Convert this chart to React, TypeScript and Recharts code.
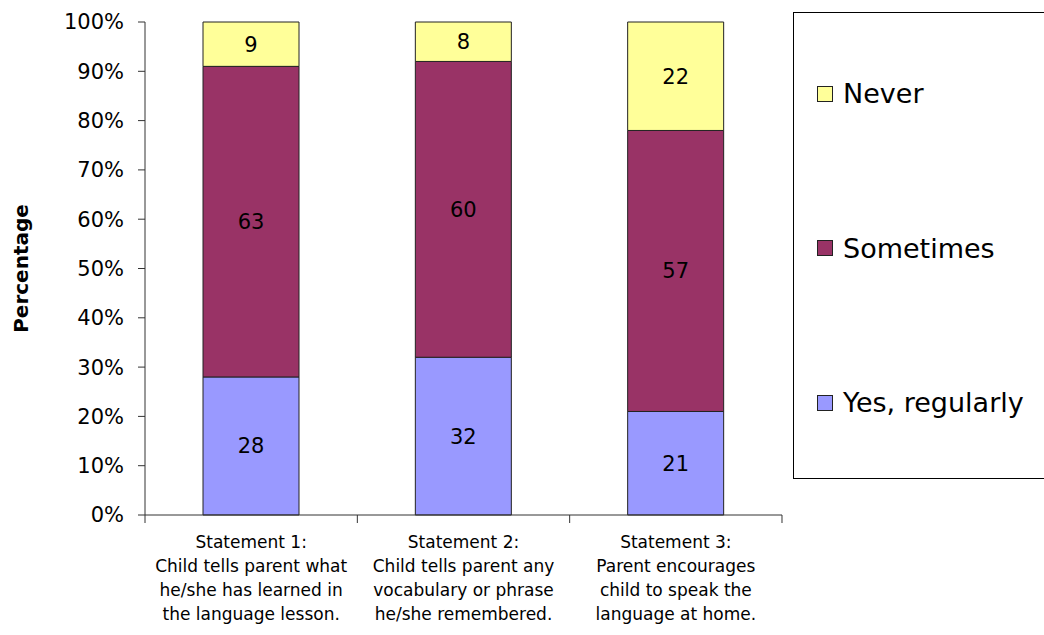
import React from 'react';
import { BarChart, Bar, XAxis, YAxis, LabelList } from 'recharts';

const categories = [
  ['Statement 1:', 'Child tells parent what', 'he/she has learned in', 'the language lesson.'],
  ['Statement 2:', 'Child tells parent any', 'vocabulary or phrase', 'he/she remembered.'],
  ['Statement 3:', 'Parent encourages', 'child to speak the', 'language at home.'],
];
const yesRegularly = [28, 32, 21];
const sometimes = [63, 60, 57];
const never = [9, 8, 22];
const yTicks = [0, 10, 20, 30, 40, 50, 60, 70, 80, 90, 100];

const series = [
  { key: 'yes', name: 'Yes, regularly', color: '#9999FF' },
  { key: 'sometimes', name: 'Sometimes', color: '#993366' },
  { key: 'never', name: 'Never', color: '#FFFF99' },
];

const data = categories.map((lines, i) => ({
  name: lines.join(' '),
  lines,
  yes: yesRegularly[i],
  sometimes: sometimes[i],
  never: never[i],
}));

const FONT = '"DejaVu Sans", Verdana, sans-serif';
const AXIS = '#333';

const CategoryTick = (props: any) => {
  const { x, y, index, payload } = props;
  const half = 212.33 / 2;
  const lines = data[index]?.lines ?? [payload.value];
  return (
    <g>
      <line x1={x - half} y1={y - 8} x2={x - half} y2={y} stroke={AXIS} />
      {index === data.length - 1 && <line x1={x + half} y1={y - 8} x2={x + half} y2={y} stroke={AXIS} />}
      <text x={x} y={y + 25} textAnchor="middle" fontSize={17} fontFamily={FONT} fill="#000">
        {lines.map((l: string, i: number) => (
          <tspan key={i} x={x} dy={i === 0 ? 0 : 24}>
            {l}
          </tspan>
        ))}
      </text>
    </g>
  );
};

const LegendBox = () => {
  const items = [...series].reverse();
  return (
    <div
      style={{
        position: 'absolute',
        left: 793,
        top: 12,
        width: 270,
        height: 467,
        border: '1px solid #000',
        boxSizing: 'border-box',
        fontFamily: FONT,
      }}
    >
      {items.map((item, i) => (
        <div
          key={item.key}
          style={{
            position: 'absolute',
            left: 23,
            top: 65 + i * 154.5,
            display: 'flex',
            alignItems: 'center',
            fontSize: 27,
            color: '#000',
            whiteSpace: 'nowrap',
          }}
        >
          <span
            style={{
              display: 'inline-block',
              width: 16,
              height: 16,
              background: item.color,
              border: '1px solid #222',
              boxSizing: 'border-box',
              marginRight: 10,
            }}
          />
          {item.name}
        </div>
      ))}
    </div>
  );
};

export default function App() {
  return (
    <div style={{ position: 'absolute', left: 0, top: 0, width: 1044, height: 635, background: '#fff', overflow: 'hidden' }}>
      <BarChart
        width={1044}
        height={635}
        data={data}
        margin={{ top: 22, right: 262, bottom: 0, left: 0 }}
        barSize={96}
      >
        <XAxis
          dataKey="name"
          interval={0}
          height={120}
          axisLine={{ stroke: AXIS }}
          tickLine={false}
          tick={<CategoryTick />}
        />
        <YAxis
          width={145}
          domain={[0, 100]}
          ticks={yTicks}
          interval={0}
          tickFormatter={(v) => `${v}%`}
          axisLine={{ stroke: AXIS }}
          tickLine={{ stroke: AXIS }}
          tickSize={7}
          tickMargin={14}
          tick={{ fontSize: 21, fill: '#000', fontFamily: FONT }}
          label={(p: any) => {
            const vb = p.viewBox;
            const cx = 21;
            const cy = vb.y + vb.height / 2;
            return (
              <text
                x={cx}
                y={cy}
                transform={`rotate(-90 ${cx} ${cy})`}
                textAnchor="middle"
                dominantBaseline="central"
                fontSize={20}
                fontWeight="bold"
                fontFamily={FONT}
                fill="#000"
              >
                Percentage
              </text>
            );
          }}
        />
        {series.map((s) => (
          <Bar
            key={s.key}
            dataKey={s.key}
            name={s.name}
            stackId="a"
            fill={s.color}
            stroke="#222"
            strokeWidth={1}
            isAnimationActive={false}
          >
            <LabelList dataKey={s.key} position="center" fontSize={21} fill="#000" fontFamily={FONT} />
          </Bar>
        ))}
      </BarChart>
      <LegendBox />
    </div>
  );
}
